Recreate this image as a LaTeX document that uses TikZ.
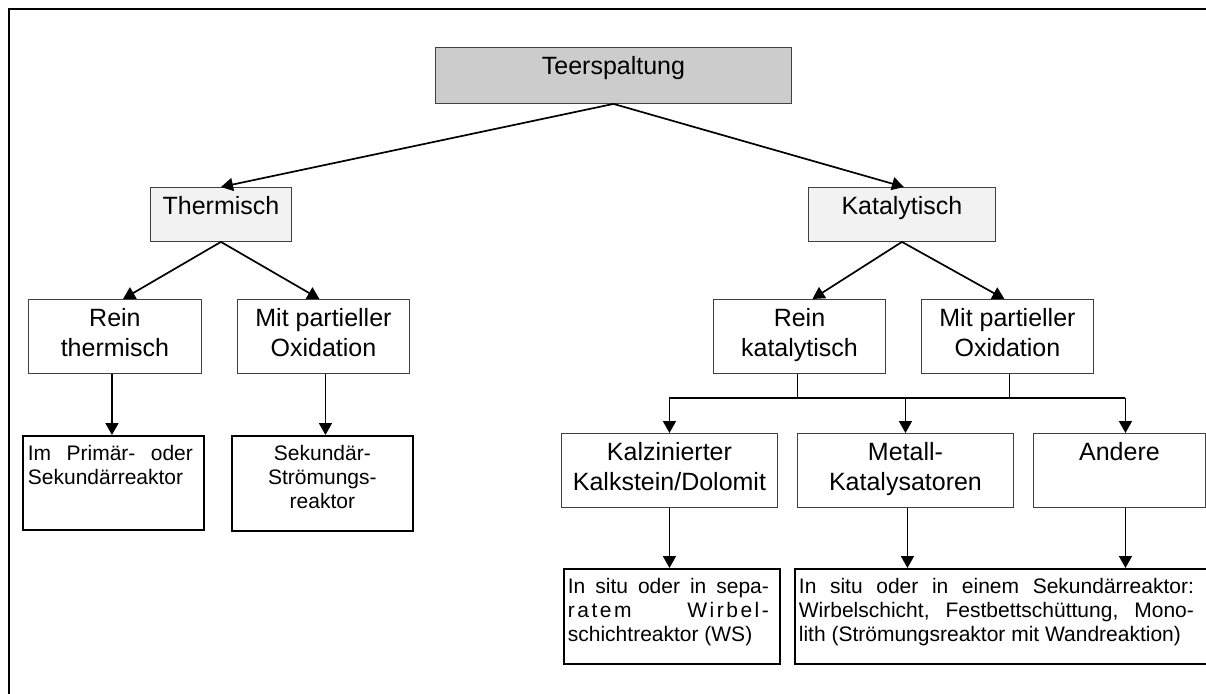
\documentclass[tikz,border=0pt]{standalone}
\usepackage{fontspec}
\setmainfont{Liberation Sans}
\usetikzlibrary{arrows.meta}
\definecolor{teergray}{HTML}{CCCCCC}
\definecolor{lightfill}{HTML}{F2F2F2}
\definecolor{edgegray}{HTML}{404040}
\newcommand{\boxtext}[3]{\parbox[c][#2][t]{#1}{\centering\rule{0pt}{27pt}#3}}
\newcommand{\notetext}[5]{\parbox[c][#2][t]{#1}{\leftskip=#3\rightskip=#4\rule{0pt}{24.5pt}#5}}
\begin{document}
\begin{tikzpicture}[x=1pt,y=-1pt,
  topbox/.style={draw=edgegray,line width=0.9pt,inner sep=0pt,anchor=north west,
    font=\fontsize{25}{30.5}\selectfont},
  notebox/.style={draw=black,line width=1.8pt,inner sep=0pt,anchor=north west,
    font=\fontsize{21}{23.8}\selectfont},
  arr/.style={-{Triangle[length=12pt,width=13pt]},line width=1.7pt}]
\clip (0,0) rectangle (1206,693);
\fill[white] (0,0) rectangle (1206,693);
\draw[line width=2pt] (9,700) -- (9,9) -- (1215,9);
% top levels
\node[topbox,fill=teergray] (teer) at (435,47) {\boxtext{356pt}{56pt}{Teerspaltung}};
\node[topbox,fill=lightfill] (therm) at (150,187) {\boxtext{141pt}{54pt}{Thermisch}};
\node[topbox,fill=lightfill] (kat) at (808,187) {\boxtext{187pt}{54pt}{Katalytisch}};
\draw[arr] (teer.south) -- (therm.north);
\draw[arr] (teer.south) -- ([xshift=2pt]kat.north);
% thermisch branch
\node[topbox] (reinth) at (28,299) {\boxtext{173pt}{74pt}{Rein\\thermisch}};
\node[topbox] (partth) at (237,299) {\boxtext{172pt}{74pt}{Mit partieller\\Oxidation}};
\draw[arr] (therm.south) -- ([xshift=8pt]reinth.north);
\draw[arr] (therm.south) -- ([xshift=-4pt]partth.north);
\node[notebox] (primsek) at (22,435) {\notetext{181pt}{94pt}{5pt}{11pt}{Im Primär- oder\linebreak Sekundärreaktor}};
\node[notebox] (sekstr) at (231,435) {\notetext{181pt}{95pt}{0pt}{0pt}{\centering Sekundär-\\Strömungs-\\reaktor}};
\draw[arr] ([xshift=-3pt]reinth.south) -- ([xshift=-3pt]reinth.south |- primsek.north);
\draw[arr] ([xshift=2pt]partth.south) -- ([xshift=2pt]partth.south |- sekstr.north);
% katalytisch branch
\node[topbox] (reinkat) at (713,299) {\boxtext{172pt}{74pt}{Rein\\katalytisch}};
\node[topbox] (partkat) at (921,299) {\boxtext{172pt}{74pt}{Mit partieller\\Oxidation}};
\draw[arr] (kat.south) -- ([xshift=13pt]reinkat.north);
\draw[arr] (kat.south) -- ([xshift=-3pt]partkat.north);
\node[topbox] (kalk) at (561,433) {\boxtext{216pt}{74pt}{Kalzinierter\\Kalkstein/Dolomit}};
\node[topbox] (metall) at (797,433) {\boxtext{216pt}{74pt}{Metall-\\Katalysatoren}};
\node[topbox] (andere) at (1033,433) {\boxtext{172pt}{74pt}{Andere}};
\coordinate (bus) at (0,398);
\draw[line width=1.7pt] ([xshift=-2pt]reinkat.south) -- ([xshift=-2pt]reinkat.south |- bus);
\draw[line width=1.7pt] ([xshift=2pt]partkat.south) -- ([xshift=2pt]partkat.south |- bus);
\draw[line width=1.7pt] (kalk.north |- bus) -- ([xshift=6pt]andere.north |- bus);
\draw[arr] (kalk.north |- bus) -- (kalk.north);
\draw[arr] (metall.north |- bus) -- (metall.north);
\draw[arr] ([xshift=6pt]andere.north |- bus) -- ([xshift=6pt]andere.north);
\node[notebox] (wsreak) at (563,568) {\notetext{216pt}{95pt}{4pt}{11pt}{In situ oder in sepa-\linebreak {\addfontfeature{LetterSpace=12}ratem Wirbel-}\linebreak schichtreaktor (WS)}};
\node[notebox] (sekreak) at (794,568) {\notetext{425pt}{95pt}{4pt}{26pt}{In situ oder in einem Sekundärreaktor:\linebreak Wirbelschicht, Festbettschüttung, Mono-\linebreak lith (Strömungsreaktor mit Wandreaktion)}};
\draw[arr] (kalk.south) -- (kalk.south |- wsreak.north);
\draw[arr] ([xshift=2pt]metall.south) -- ([xshift=2pt]metall.south |- sekreak.north);
\draw[arr] ([xshift=6pt]andere.south) -- ([xshift=6pt]andere.south |- sekreak.north);
\end{tikzpicture}
\end{document}
